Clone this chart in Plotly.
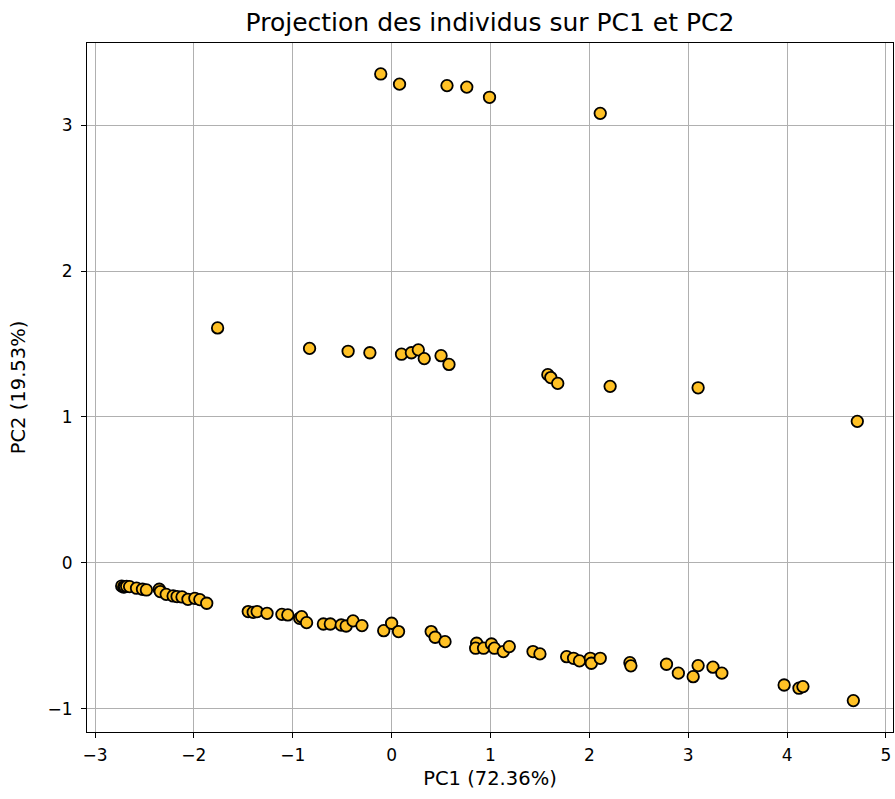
import plotly.graph_objects as go

# Coordonnées des individus sur les deux premières composantes principales
pc1 = [
    # groupe du haut
    -0.11, 0.08, 0.56, 0.76, 0.99, 2.11,
    # groupe du milieu
    -1.76, -0.83, -0.44, -0.22, 0.10, 0.20, 0.27, 0.33, 0.50, 0.58,
    1.58, 1.61, 1.68, 2.21, 3.10, 4.71,
    # groupe du bas
    -2.73, -2.71, -2.70, -2.68, -2.65, -2.58, -2.52, -2.48, -2.35, -2.34,
    -2.28, -2.21, -2.17, -2.12, -2.06, -1.99, -1.94, -1.87,
    -1.45, -1.40, -1.36, -1.26, -1.11, -1.05, -0.93, -0.91, -0.86,
    -0.69, -0.62, -0.51, -0.46, -0.39, -0.30,
    -0.08, 0.00, 0.07, 0.40, 0.44, 0.54,
    0.86, 0.85, 0.93, 1.01, 1.04, 1.13, 1.19, 1.43, 1.50,
    1.77, 1.84, 1.90, 2.01, 2.02, 2.11, 2.41, 2.42,
    2.78, 2.90, 3.05, 3.10, 3.25, 3.34, 3.97, 4.12, 4.16, 4.67,
]
pc2 = [
    3.35, 3.28, 3.27, 3.26, 3.19, 3.08,
    1.61, 1.47, 1.45, 1.44, 1.43, 1.44, 1.46, 1.40, 1.42, 1.36,
    1.29, 1.27, 1.23, 1.21, 1.20, 0.97,
    -0.158, -0.165, -0.162, -0.160, -0.162, -0.173, -0.180, -0.185, -0.180, -0.196,
    -0.215, -0.226, -0.230, -0.233, -0.249, -0.242, -0.251, -0.276,
    -0.333, -0.338, -0.333, -0.345, -0.352, -0.356, -0.379, -0.368, -0.409,
    -0.418, -0.418, -0.425, -0.432, -0.397, -0.429,
    -0.464, -0.413, -0.470, -0.470, -0.509, -0.539,
    -0.550, -0.584, -0.584, -0.555, -0.584, -0.607, -0.573, -0.607, -0.623,
    -0.642, -0.653, -0.671, -0.653, -0.687, -0.653, -0.683, -0.705,
    -0.694, -0.755, -0.779, -0.703, -0.714, -0.755, -0.836, -0.858, -0.847, -0.943,
]

x_ticks = [-3, -2, -1, 0, 1, 2, 3, 4, 5]
y_ticks = [-1, 0, 1, 2, 3]

font = "DejaVu Sans"

fig = go.Figure(
    go.Scatter(
        x=pc1,
        y=pc2,
        mode="markers",
        marker=dict(
            size=11.5,
            color="#FFC125",
            line=dict(color="black", width=1.8),
        ),
        showlegend=False,
    )
)

axis_common = dict(
    showgrid=True,
    gridcolor="#b0b0b0",
    gridwidth=1,
    zeroline=False,
    showline=True,
    linecolor="black",
    linewidth=1,
    mirror=True,
    ticks="outside",
    ticklen=5,
    tickwidth=1,
    tickcolor="black",
    tickfont=dict(family=font, size=17, color="black"),
)

fig.update_xaxes(
    **axis_common,
    range=[-3.081, 5.071],
    tickvals=x_ticks,
    ticklabelstandoff=3,
    title=dict(text="PC1 (72.36%)", font=dict(family=font, size=19.5, color="black"), standoff=6),
)
fig.update_yaxes(
    **axis_common,
    range=[-1.158, 3.562],
    tickvals=y_ticks,
    ticklabelstandoff=5,
    title=dict(text="PC2 (19.53%)", font=dict(family=font, size=19.5, color="black"), standoff=16),
)

fig.update_layout(
    width=895,
    height=799,
    margin=dict(l=87, r=2, t=43, b=67),
    paper_bgcolor="white",
    plot_bgcolor="white",
    title=dict(
        text="Projection des individus sur PC1 et PC2",
        font=dict(family=font, size=25, color="black"),
        x=0.5475,
        xanchor="center",
        y=0.972,
        yanchor="middle",
    ),
)

fig.write_html("out.html")
